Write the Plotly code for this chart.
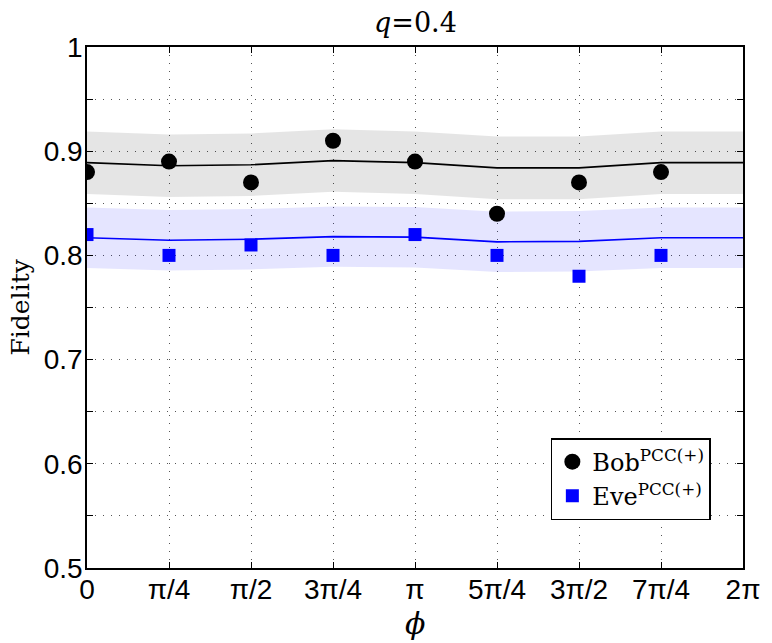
import numpy as np
import plotly.graph_objects as go

# ---- data ----
tick_labels = ["0", "π/4", "π/2", "3π/4", "π", "5π/4", "3π/2", "7π/4", "2π"]
phi = np.pi / 4 * np.arange(len(tick_labels))          # 0 .. 2π

bob_pts = [0.88, 0.89, 0.87, 0.91, 0.89, 0.84, 0.87, 0.88]
eve_pts = [0.82, 0.80, 0.81, 0.80, 0.82, 0.80, 0.78, 0.80]

bob_fit = [0.889, 0.886, 0.887, 0.891, 0.889, 0.884, 0.884, 0.889, 0.889]
bob_hi = [0.919, 0.916, 0.917, 0.921, 0.919, 0.914, 0.914, 0.919, 0.919]
bob_lo = [0.859, 0.856, 0.857, 0.861, 0.859, 0.854, 0.854, 0.859, 0.859]

eve_fit = [0.817, 0.8145, 0.8155, 0.818, 0.8175, 0.813, 0.8135, 0.817, 0.817]
eve_hi = [0.846, 0.8435, 0.8445, 0.847, 0.8465, 0.842, 0.8425, 0.846, 0.846]
eve_lo = [0.788, 0.7855, 0.7865, 0.789, 0.7885, 0.784, 0.7845, 0.788, 0.788]

y_ticks = [0.5, 0.6, 0.7, 0.8, 0.9, 1.0]
y_tick_text = ["0.5", "0.6", "0.7", "0.8", "0.9", "1"]

SERIF = "DejaVu Serif"
SANS = "Liberation Sans, Arial, sans-serif"
GRID = "#555555"
DASH = "1px,7px"

fig = go.Figure()

# Bob band
fig.add_trace(go.Scatter(x=phi, y=bob_lo, mode="lines", line=dict(width=0),
                         showlegend=False, hoverinfo="skip"))
fig.add_trace(go.Scatter(x=phi, y=bob_hi, mode="lines", line=dict(width=0),
                         fill="tonexty", fillcolor="rgba(0,0,0,0.10)",
                         showlegend=False, hoverinfo="skip"))
# Eve band
fig.add_trace(go.Scatter(x=phi, y=eve_lo, mode="lines", line=dict(width=0),
                         showlegend=False, hoverinfo="skip"))
fig.add_trace(go.Scatter(x=phi, y=eve_hi, mode="lines", line=dict(width=0),
                         fill="tonexty", fillcolor="rgba(0,0,255,0.10)",
                         showlegend=False, hoverinfo="skip"))
# fit lines
fig.add_trace(go.Scatter(x=phi, y=bob_fit, mode="lines",
                         line=dict(color="black", width=1.6), showlegend=False))
fig.add_trace(go.Scatter(x=phi, y=eve_fit, mode="lines",
                         line=dict(color="#0000ff", width=1.6), showlegend=False))
# points
fig.add_trace(go.Scatter(x=phi[:len(bob_pts)], y=bob_pts, mode="markers",
                         marker=dict(symbol="circle", size=16, color="black"),
                         name="Bob<sup>PCC(+)</sup>"))
fig.add_trace(go.Scatter(x=phi[:len(eve_pts)], y=eve_pts, mode="markers",
                         marker=dict(symbol="square", size=13, color="#0000ff"),
                         name="Eve<sup>PCC(+)</sup>"))

fig.update_layout(
    width=772, height=643,
    margin=dict(l=87, r=23, t=47, b=75),
    paper_bgcolor="white", plot_bgcolor="white",
    showlegend=True,
    legend=dict(
        x=0.951, xanchor="right", y=0.092, yanchor="bottom",
        bgcolor="white", bordercolor="black", borderwidth=1.5,
        font=dict(family=SERIF, size=24, color="black"),
        itemsizing="trace", traceorder="normal",
    ),
    xaxis=dict(
        range=[0, 2 * np.pi], tickmode="array", tickvals=phi, ticktext=tick_labels,
        showgrid=True, gridcolor=GRID, griddash=DASH, gridwidth=1,
        zeroline=False, showline=True, linecolor="black", linewidth=1.5,
        mirror="allticks", ticks="inside", ticklen=6, tickcolor="black",
        tickfont=dict(family=SANS, size=28, color="black"),
        ticklabelstandoff=-4,
    ),
    yaxis=dict(
        range=[0.5, 1.0], tickmode="array", tickvals=y_ticks, ticktext=y_tick_text,
        showgrid=True, gridcolor=GRID, griddash=DASH, gridwidth=1,
        zeroline=False, showline=True, linecolor="black", linewidth=1.5,
        mirror="allticks", ticks="inside", ticklen=6, tickcolor="black",
        tickfont=dict(family=SANS, size=28, color="black"),
        ticklabelstandoff=-3,
        minor=dict(dtick=0.05, tick0=0.5, showgrid=True, gridcolor=GRID,
                   griddash=DASH, ticks="inside", ticklen=6, tickcolor="black"),
    ),
    annotations=[
        dict(text="<i>q</i>=0.4", xref="paper", yref="paper", x=0.5, y=1.0,
             yshift=25, showarrow=False, xanchor="center", yanchor="middle",
             font=dict(family=SERIF, size=27, color="black")),
        dict(text="<i>ϕ</i>", xref="paper", yref="paper", x=0.5, y=0.0,
             yshift=-55, showarrow=False, xanchor="center", yanchor="middle",
             font=dict(family=SERIF, size=30, color="black")),
        dict(text="Fidelity", xref="paper", yref="paper", x=0.0, y=0.5,
             xshift=-67, showarrow=False, xanchor="center", yanchor="middle",
             textangle=-90, font=dict(family=SERIF, size=25, color="black")),
    ],
)

fig.write_html("out.html")
